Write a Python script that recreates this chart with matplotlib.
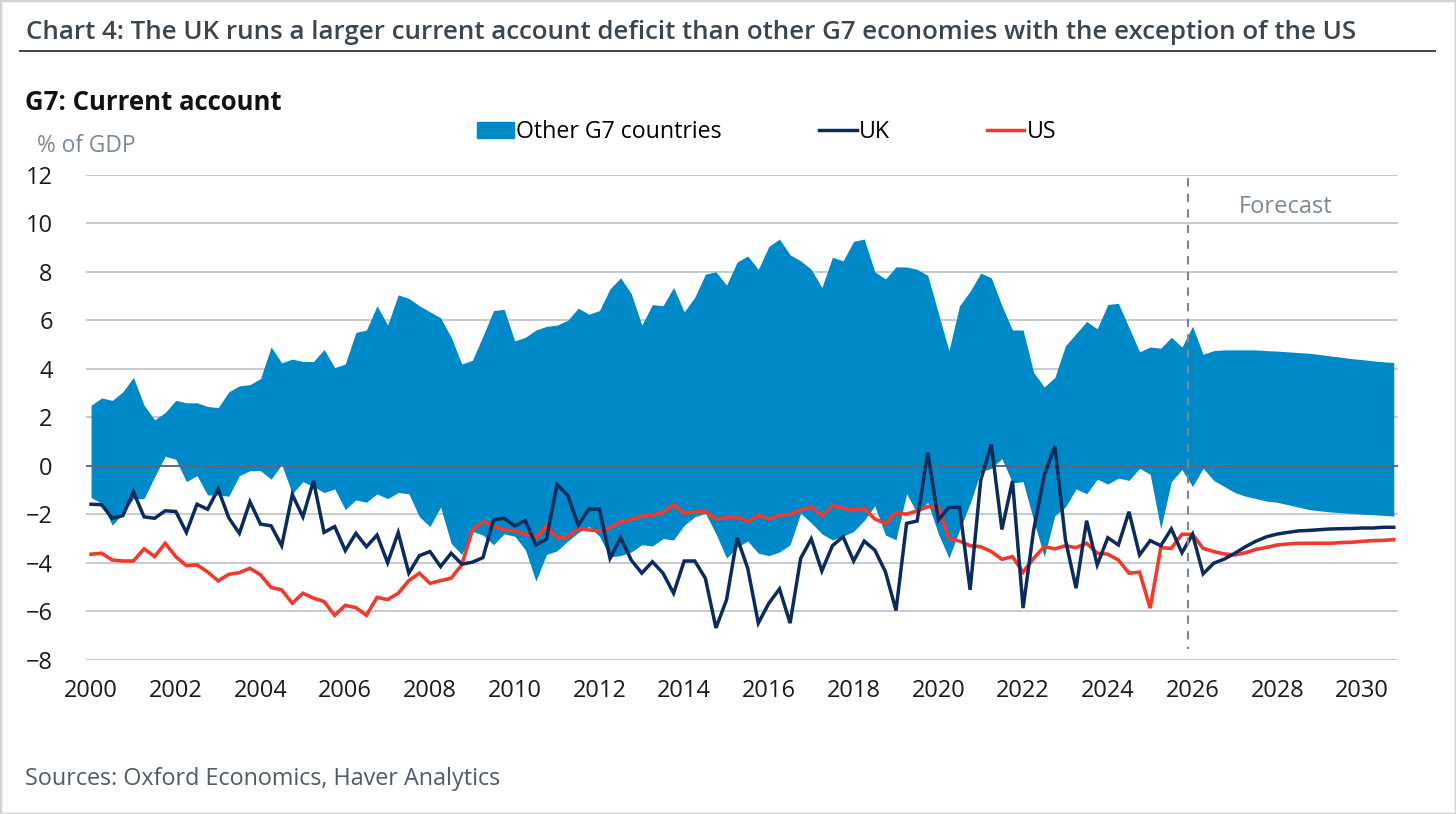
import numpy as np
import matplotlib
matplotlib.use('Agg')
import matplotlib.pyplot as plt
from matplotlib.patches import Patch, Rectangle
from matplotlib.lines import Line2D

plt.rcParams['font.family'] = ['Open Sans', 'DejaVu Sans']

# quarterly data, 2000Q1 .. 2030Q4 (% of GDP)
other_g7_high = [
    2.5, 2.8, 2.7, 3.05, 3.65, 2.5, 1.9, 2.2, 2.7, 2.6, 2.6, 2.45, 2.4, 3.05, 3.3, 3.35, 3.6, 4.9, 4.25, 4.4,
    4.3, 4.3, 4.8, 4.05, 4.2, 5.5, 5.6, 6.6, 5.8, 7.05, 6.9, 6.6, 6.35, 6.1, 5.3, 4.2, 4.35, 5.35, 6.4, 6.45,
    5.15, 5.3, 5.6, 5.75, 5.8, 6.0, 6.5, 6.25, 6.4, 7.3, 7.75, 7.1, 5.8, 6.65, 6.6, 7.35, 6.35, 6.95, 7.9, 8.0,
    7.45, 8.4, 8.65, 8.1, 9.05, 9.35, 8.7, 8.45, 8.1, 7.35, 8.6, 8.45, 9.25, 9.35, 8.0, 7.7, 8.2, 8.2, 8.1, 7.85,
    6.3, 4.75, 6.6, 7.2, 7.95, 7.75, 6.6, 5.6, 5.6, 3.85, 3.25, 3.65, 4.95, 5.45, 5.95, 5.65, 6.65, 6.7, 5.7, 4.7,
    4.9, 4.85, 5.3, 4.9, 5.75, 4.6, 4.75, 4.78, 4.78, 4.78, 4.78, 4.75, 4.73, 4.7, 4.67, 4.64, 4.59, 4.53, 4.48,
    4.42, 4.38, 4.33, 4.29, 4.26]
other_g7_low = [
    -1.3, -1.55, -2.45, -1.95, -1.35, -1.35, -0.45, 0.4, 0.27, -0.65, -0.4, -1.2, -1.2, -1.25, -0.4, -0.2, -0.2, -0.55, 0.05, -1.15,
    -0.65, -0.85, -1.1, -0.95, -1.8, -1.4, -1.5, -1.15, -1.35, -1.1, -1.15, -2.1, -2.5, -1.7, -3.2, -3.65, -2.7, -2.85, -3.25, -2.8,
    -2.9, -3.45, -4.75, -3.65, -3.5, -3.1, -2.75, -2.5, -2.9, -3.75, -3.7, -3.55, -3.25, -3.3, -3.0, -3.05, -2.45, -2.1, -1.95, -2.8,
    -3.8, -3.35, -3.1, -3.6, -3.7, -3.55, -3.25, -1.95, -2.35, -2.8, -3.05, -2.9, -2.7, -2.25, -1.65, -2.85, -3.05, -1.15, -1.95, -1.5,
    -2.8, -3.8, -2.65, -1.55, -0.25, -0.1, 0.3, -0.7, -0.65, -2.25, -3.75, -2.05, -1.7, -0.95, -1.15, -0.55, -0.75, -0.5, -0.6, -0.1,
    -0.35, -2.6, -0.65, -0.15, -0.85, -0.1, -0.6, -0.85, -1.1, -1.25, -1.35, -1.45, -1.5, -1.6, -1.7, -1.8, -1.85, -1.9, -1.93,
    -1.96, -1.99, -2.01, -2.04, -2.07]
uk = [
    -1.58, -1.6, -2.16, -2.05, -1.07, -2.1, -2.16, -1.85, -1.88, -2.74, -1.58, -1.79, -0.96, -2.14, -2.78, -1.48, -2.4, -2.47, -3.29, -1.18,
    -2.1, -0.62, -2.74, -2.5, -3.49, -2.78, -3.33, -2.85, -3.99, -2.75, -4.42, -3.7, -3.53, -4.15, -3.6, -4.05, -3.97, -3.78, -2.23, -2.16,
    -2.47, -2.26, -3.26, -3.01, -0.77, -1.21, -2.44, -1.78, -1.78, -3.81, -2.96, -3.88, -4.42, -3.95, -4.42, -5.25, -3.92, -3.92, -4.63, -6.68,
    -5.52, -2.96, -4.22, -6.48, -5.66, -5.07, -6.48, -3.81, -3.01, -4.33, -3.29, -2.92, -3.92, -3.1, -3.47, -4.36, -5.96, -2.37, -2.27, 0.55,
    -2.23, -1.71, -1.71, -5.11, -0.59, 0.88, -2.62, -0.62, -5.86, -2.64, -0.38, 0.81, -3.05, -5.04, -2.26, -4.08, -2.96, -3.26, -1.89, -3.67,
    -3.08, -3.29, -2.6, -3.58, -2.82, -4.45, -4.01, -3.84, -3.6, -3.33, -3.1, -2.92, -2.81, -2.74, -2.68, -2.66, -2.63, -2.6, -2.59,
    -2.58, -2.56, -2.56, -2.53, -2.53]
us = [
    -3.64, -3.6, -3.88, -3.92, -3.92, -3.42, -3.74, -3.19, -3.74, -4.11, -4.08, -4.37, -4.74, -4.47, -4.4, -4.22, -4.49, -5.01, -5.11, -5.66,
    -5.25, -5.45, -5.59, -6.16, -5.75, -5.84, -6.16, -5.42, -5.51, -5.25, -4.73, -4.42, -4.84, -4.73, -4.63, -4.08, -2.64, -2.3, -2.48, -2.64,
    -2.68, -2.81, -2.96, -2.5, -2.96, -2.92, -2.58, -2.64, -2.68, -2.55, -2.3, -2.21, -2.07, -2.03, -1.92, -1.59, -1.96, -1.89, -1.89, -2.19,
    -2.12, -2.1, -2.3, -2.03, -2.19, -2.03, -2.0, -1.82, -1.68, -2.07, -1.64, -1.75, -1.82, -1.75, -2.19, -2.37, -1.93, -1.99, -1.85, -1.68,
    -1.71, -2.99, -3.1, -3.29, -3.33, -3.53, -3.85, -3.74, -4.38, -3.81, -3.33, -3.42, -3.29, -3.37, -3.19, -3.6, -3.64, -3.88, -4.42, -4.38,
    -5.86, -3.37, -3.4, -2.82, -2.82, -3.4, -3.53, -3.63, -3.67, -3.58, -3.44, -3.36, -3.26, -3.22, -3.19, -3.19, -3.19, -3.19, -3.16,
    -3.15, -3.11, -3.08, -3.07, -3.04]

start_year = 2000
forecast_start = 2025.9
year_ticks = list(range(2000, 2031, 2))
y_ticks = list(range(-8, 13, 2))

x = start_year + np.arange(len(uk)) / 4.0

band_col = '#0089c8'
uk_col = '#0b2b5c'
us_col = '#ef3b2d'
grey_txt = '#7c8893'
dark_txt = '#3b4550'

fig = plt.figure(figsize=(14.56, 8.14), dpi=100)
ax = fig.add_axes([86 / 1456, 1 - 660 / 814, (1398 - 86) / 1456, (660 - 174.7) / 814])

ax.fill_between(x, other_g7_low, other_g7_high, color=band_col, lw=0, zorder=2)
ax.axhline(0, color='#5a6672', lw=1.3, zorder=3)
ax.plot(x, uk, color=uk_col, lw=2.5, zorder=5, solid_joinstyle='miter')
ax.plot(x, us, color=us_col, lw=2.6, zorder=4, solid_joinstyle='miter')
ax.plot([forecast_start, forecast_start], [11.85, -7.55], color='#7d8792', lw=1.5,
        ls=(0, (4, 3.5)), zorder=6)
ax.text(2028.2, 10.65, 'Forecast', color=grey_txt, fontsize=17, ha='center', va='center')

ax.set_xlim(1999.88, 2030.85)
ax.set_ylim(-8, 12)
ax.set_xticks(year_ticks)
ax.set_yticks(y_ticks)
ax.tick_params(length=0, labelsize=17, colors='#1a1a1a')
ax.tick_params(axis='y', pad=24)
ax.tick_params(axis='x', pad=14)
ax.grid(axis='y', color='#c6cbd1', lw=1.4)
ax.set_axisbelow(True)
for s in ax.spines.values():
    s.set_visible(False)

handles = [Patch(color=band_col, label='Other G7 countries'),
           Line2D([], [], color=uk_col, lw=2.5, label='UK'),
           Line2D([], [], color=us_col, lw=2.5, label='US')]
fig.legend(handles=handles, loc='center left', bbox_to_anchor=(477 / 1456, 1 - 132 / 814),
           ncol=3, frameon=False, fontsize=16.7, handlelength=1.6, handletextpad=0.1,
           columnspacing=4.2, borderaxespad=0, borderpad=0)

fig.text(26 / 1456, 1 - 39 / 814, 'Chart 4: The UK runs a larger current account deficit than other G7 '
         'economies with the exception of the US', fontsize=18.6, fontweight='semibold',
         color=dark_txt, va='baseline')
fig.add_artist(Line2D([20 / 1456, 1435 / 1456], [1 - 50.5 / 814] * 2, color=dark_txt, lw=1.4))
fig.text(25 / 1456, 1 - 110 / 814, 'G7: Current account', fontsize=18.5, fontweight='bold',
         color='#111111', va='baseline')
fig.text(37 / 1456, 1 - 152 / 814, '% of GDP', fontsize=16.4, color=grey_txt, va='baseline')
fig.text(25 / 1456, 1 - 779 / 814, 'Sources: Oxford Economics, Haver Analytics', fontsize=16.8,
         color='#4f5b67', va='center')
fig.add_artist(Rectangle((0, 0), 1, 1, transform=fig.transFigure, fill=False,
                         edgecolor='#d2d2d2', lw=2.5))

fig.savefig('out.png', dpi=100)
